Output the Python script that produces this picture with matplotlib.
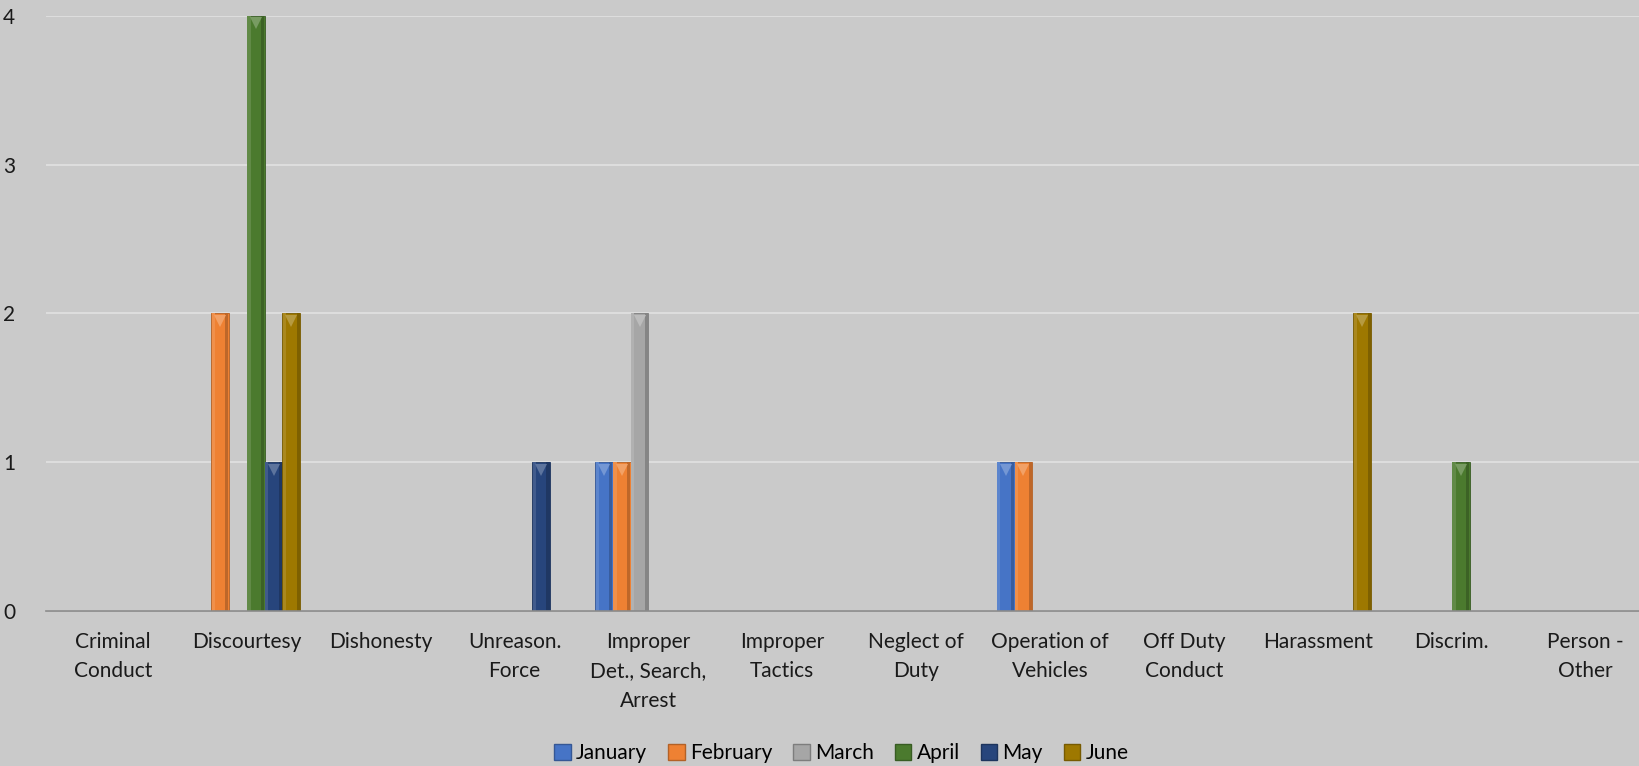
import numpy as np
import matplotlib
matplotlib.use("Agg")
from matplotlib import pyplot as plt
from matplotlib.patches import Patch
from matplotlib.colors import to_rgb

plt.rcParams['font.family'] = ['Lato', 'DejaVu Sans']
plt.rcParams['font.size'] = 15

categories = ["Criminal\nConduct", "Discourtesy", "Dishonesty", "Unreason.\nForce",
              "Improper\nDet., Search,\nArrest", "Improper\nTactics", "Neglect of\nDuty",
              "Operation of\nVehicles", "Off Duty\nConduct", "Harassment", "Discrim.",
              "Person -\nOther"]
months = ["January", "February", "March", "April", "May", "June"]

january  = [0, 0, 0, 0, 1, 0, 0, 1, 0, 0, 0, 0]
february = [0, 2, 0, 0, 1, 0, 0, 1, 0, 0, 0, 0]
march    = [0, 0, 0, 0, 2, 0, 0, 0, 0, 0, 0, 0]
april    = [0, 4, 0, 0, 0, 0, 0, 0, 0, 0, 1, 0]
may      = [0, 1, 0, 1, 0, 0, 0, 0, 0, 0, 0, 0]
june     = [0, 2, 0, 0, 0, 0, 0, 0, 0, 2, 0, 0]
series = [january, february, march, april, may, june]

colors = ["#4674C6", "#EE8133", "#A6A6A6", "#4B7A2E", "#27457C", "#9E7800"]
bg = "#CACACA"


def shade(c, f):
    r = np.array(to_rgb(c))
    if f < 0:
        return tuple(r * (1 + f))
    return tuple(r + (1 - r) * f)


fig = plt.figure(figsize=(16.4, 7.66), dpi=100, facecolor=bg)
ax = fig.add_axes([46 / 1640, 1 - 611 / 766, 1 - 46 / 1640, (611 - 15.7) / 766])
ax.set_facecolor(bg)

x = np.arange(len(categories))
w = 0.133
for i, (vals, col) in enumerate(zip(series, colors)):
    vals = np.array(vals, dtype=float)
    pos = x + (i - 2.5) * w
    nz = vals > 0
    # main body
    ax.bar(pos[nz], vals[nz], width=w, color=col, edgecolor=shade(col, -0.25),
           linewidth=0.6, zorder=3)
    # bevel: lighter left strip, darker right strip
    ax.bar(pos[nz] - w * 0.38, vals[nz], width=w * 0.18, color=shade(col, 0.12),
           linewidth=0, zorder=4)
    ax.bar(pos[nz] + w * 0.38, vals[nz], width=w * 0.18, color=shade(col, -0.2),
           linewidth=0, zorder=4)
    # top chevron
    ax.plot(pos[nz], vals[nz] - 0.05, linestyle="none", marker="v", markersize=8,
            color=shade(col, 0.25), markeredgewidth=0, zorder=5)

ax.set_ylim(0, 4)
ax.set_xlim(-0.5, 11.406)
ax.set_yticks([0, 1, 2, 3, 4])
ax.set_xticks(x)
ax.set_xticklabels(categories, linespacing=1.6)
ax.yaxis.grid(True, color="#E2E2E2", linewidth=1.2, zorder=0)
ax.set_axisbelow(True)
for s in ["top", "right", "left"]:
    ax.spines[s].set_visible(False)
ax.spines["bottom"].set_color("#8A8A8A")
ax.spines["bottom"].set_linewidth(1.2)
ax.spines["bottom"].set_zorder(6)
ax.tick_params(axis="both", length=0, colors="#1A1A1A")
ax.tick_params(axis="x", pad=15)
ax.tick_params(axis="y", pad=31)
for lbl in ax.get_yticklabels():
    lbl.set_horizontalalignment("left")

handles = [Patch(facecolor=c, edgecolor=shade(c, -0.25), label=m) for m, c in zip(months, colors)]
fig.legend(handles=handles, loc="center", bbox_to_anchor=(0.513, 1 - 753 / 766), ncol=6,
           frameon=False, handlelength=0.8, handleheight=0.8, handletextpad=0.25,
           columnspacing=1.0, fontsize=15)

fig.savefig("out.png", dpi=100, facecolor=bg)
